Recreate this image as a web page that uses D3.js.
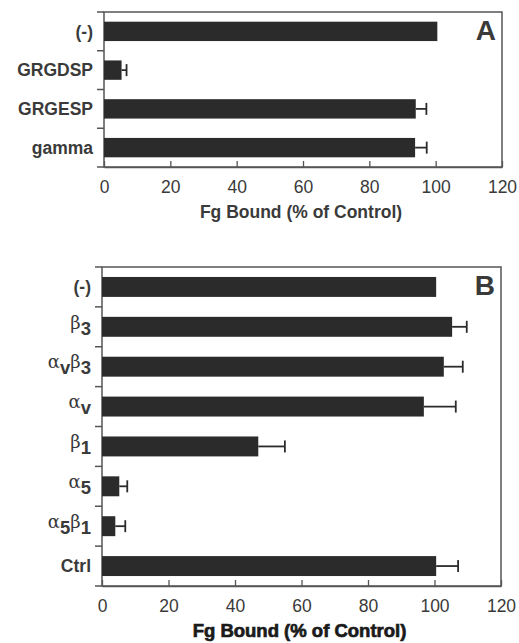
<!DOCTYPE html>
<html>
<head>
<meta charset="utf-8">
<script src="https://cdn.jsdelivr.net/npm/d3@7"></script>
<style>
  html, body { margin: 0; padding: 0; background: #fff; }
  svg { display: block; }
</style>
</head>
<body>
<svg id="chart" width="519" height="643"></svg>
<script>
// Fibrinogen binding, panel A: peptide / antibody treatments
const panelACategories = ["(-)", "GRGDSP", "GRGESP", "gamma"];
const panelAValues = [100.5, 5.3, 94.0, 93.8];
const panelAErrors = [0, 1.5, 3.2, 3.5];

// Panel B: integrin subunit transfections
const panelBCategories = ["(-)", "β3", "αvβ3", "αv", "β1", "α5", "α5β1", "Ctrl"];
const panelBValues = [100.5, 105.3, 102.8, 96.8, 47.0, 5.2, 4.0, 100.5];
const panelBErrors = [0, 4.4, 5.7, 9.6, 8.0, 2.4, 3.0, 6.6];

const xTicks = [0, 20, 40, 60, 80, 100, 120];
const xDomain = [0, 120];
const axisTitle = "Fg Bound (% of Control)";
const panelLetters = ["A", "B"];

const svg = d3.select("#chart");
const ink = "#2b2b2b";
const frameColor = "#555";
const textColor = "#3a3a3a";

const panels = [
  { letter: panelLetters[0], cats: panelACategories, vals: panelAValues, errs: panelAErrors,
    x0: 104, x1: 502, top: 12, bottom: 167, titleWeight: 700, titleSize: 17.5, titleStroke: 0 },
  { letter: panelLetters[1], cats: panelBCategories, vals: panelBValues, errs: panelBErrors,
    x0: 102, x1: 501, top: 267, bottom: 586, titleWeight: 700, titleSize: 18.5, titleStroke: 0.7 }
];

// Split a label like "αvβ3" into Greek symbols and their subscripts
function labelParts(label) {
  const parts = [];
  const re = /([αβ])([0-9v]?)/g;
  if (!/[αβ]/.test(label)) return [{ text: label, sub: false }];
  let m;
  while ((m = re.exec(label)) !== null) {
    parts.push({ text: m[1], sub: false, greek: true });
    if (m[2]) parts.push({ text: m[2], sub: true });
  }
  return parts;
}

panels.forEach(p => {
  const g = svg.append("g");
  const x = d3.scaleLinear().domain(xDomain).range([p.x0, p.x1]);
  const y = d3.scaleBand().domain(p.cats).range([p.top, p.bottom]).paddingInner(0).paddingOuter(0);
  const barH = y.step() * 0.5;

  // frame
  g.append("rect")
    .attr("x", x(0)).attr("y", p.top)
    .attr("width", x(120) - x(0)).attr("height", p.bottom - p.top)
    .attr("fill", "none").attr("stroke", frameColor).attr("stroke-width", 1.5);

  // category boundary ticks on the left axis
  const bounds = p.cats.map(c => y(c)).concat([p.bottom]);
  g.selectAll("line.ytick").data(bounds).join("line")
    .attr("class", "ytick")
    .attr("x1", x(0) - 7).attr("x2", x(0))
    .attr("y1", d => d).attr("y2", d => d)
    .attr("stroke", frameColor).attr("stroke-width", 1.5);

  // x axis with inward ticks
  const xAxis = d3.axisBottom(x).tickValues(xTicks).tickSizeInner(-6).tickSizeOuter(0).tickPadding(14);
  const ax = g.append("g").attr("transform", `translate(0,${p.bottom})`).call(xAxis);
  ax.select(".domain").attr("stroke", frameColor).attr("stroke-width", 1.5);
  ax.selectAll(".tick line").attr("stroke", frameColor).attr("stroke-width", 1.3);
  ax.selectAll(".tick text")
    .attr("font-family", "'Liberation Sans', Arial, sans-serif")
    .attr("font-size", 17.5).attr("fill", textColor).attr("dy", "0.71em");

  // bars
  g.selectAll("rect.bar").data(p.cats).join("rect")
    .attr("class", "bar")
    .attr("x", x(0))
    .attr("y", c => y(c) + (y.step() - barH) / 2)
    .attr("width", (c, i) => x(p.vals[i]) - x(0))
    .attr("height", barH)
    .attr("fill", ink);

  // error bars (upper side only)
  const errData = p.cats.map((c, i) => ({ c, v: p.vals[i], e: p.errs[i] })).filter(d => d.e > 0);
  const eg = g.selectAll("g.err").data(errData).join("g").attr("class", "err");
  eg.append("line")
    .attr("x1", d => x(d.v)).attr("x2", d => x(d.v + d.e))
    .attr("y1", d => y(d.c) + y.step() / 2).attr("y2", d => y(d.c) + y.step() / 2)
    .attr("stroke", ink).attr("stroke-width", 1.8);
  eg.append("line")
    .attr("x1", d => x(d.v + d.e)).attr("x2", d => x(d.v + d.e))
    .attr("y1", d => y(d.c) + y.step() / 2 - 6).attr("y2", d => y(d.c) + y.step() / 2 + 6)
    .attr("stroke", ink).attr("stroke-width", 1.8);

  // category labels
  const labels = g.selectAll("text.cat").data(p.cats).join("text")
    .attr("class", "cat")
    .attr("x", x(0) - 11)
    .attr("y", c => y(c) + y.step() / 2)
    .attr("dy", "0.36em")
    .attr("text-anchor", "end")
    .attr("fill", textColor)
    .attr("font-family", "'Liberation Sans', Arial, sans-serif")
    .attr("font-weight", 700)
    .attr("font-size", 17.5);
  labels.each(function (c) {
    const t = d3.select(this);
    const parts = labelParts(c);
    let lowered = false;
    if (parts.length > 1 || parts[0].greek) t.attr("dy", "0.1em");
    parts.forEach(pt => {
      const s = t.append("tspan").text(pt.text);
      if (pt.sub) {
        s.attr("dy", 6).attr("font-size", 18.5);
        lowered = true;
      } else if (pt.greek) {
        s.attr("font-family", "'DejaVu Serif', 'Liberation Serif', serif")
          .attr("font-weight", 400).attr("font-size", 18);
        if (lowered) { s.attr("dy", -6); lowered = false; }
      }
    });
  });

  // panel letter
  g.append("text")
    .attr("x", x(120) - 6).attr("y", p.top + 28)
    .attr("text-anchor", "end")
    .attr("font-family", "'Liberation Sans', Arial, sans-serif")
    .attr("font-weight", 700).attr("font-size", 28)
    .attr("fill", textColor)
    .text(p.letter);

  // axis title
  g.append("text")
    .attr("x", (x(0) + x(120)) / 2 - 2).attr("y", p.bottom + 51)
    .attr("text-anchor", "middle")
    .attr("font-family", "'Liberation Sans', Arial, sans-serif")
    .attr("font-weight", p.titleWeight).attr("font-size", p.titleSize)
    .attr("fill", p.titleStroke ? "#1a1a1a" : textColor)
    .attr("stroke", p.titleStroke ? "#1a1a1a" : "none")
    .attr("stroke-width", p.titleStroke)
    .text(axisTitle);
});
</script>
</body>
</html>
